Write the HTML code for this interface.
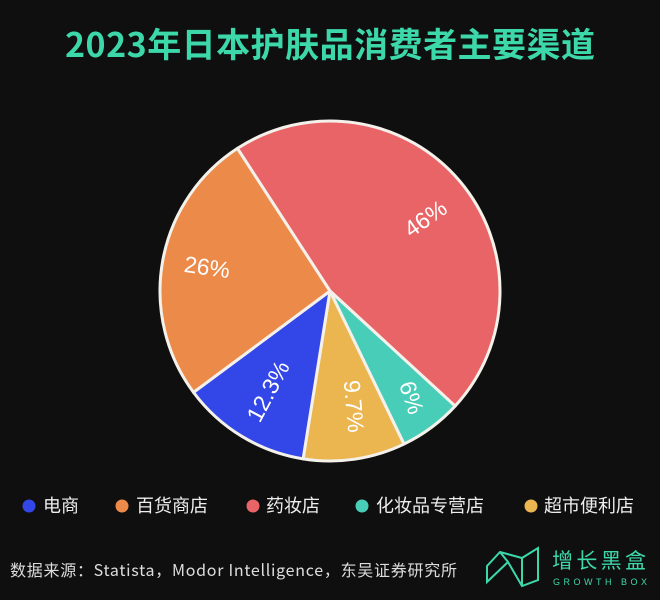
<!DOCTYPE html>
<html><head><meta charset="utf-8"><style>
body{margin:0;background:#0f0f0f;}
svg{display:block}
text{font-family:"Liberation Sans","Noto Sans CJK SC",sans-serif;}
</style></head><body>
<svg width="660" height="600" viewBox="0 0 660 600" xmlns="http://www.w3.org/2000/svg">
<rect width="660" height="600" fill="#0f0f0f"/>
<text x="330" y="57" text-anchor="middle" font-size="34" font-weight="bold" fill="#3dd8aa" textLength="530" style="font-family:'Noto Sans CJK SC',sans-serif">2023年日本护肤品消费者主要渠道</text>
<g stroke="#f4f0ea" stroke-width="3" stroke-linejoin="round">
<path fill="#e96467" d="M330 291 L237.42 148.42 A170 170 0 0 1 455.14 406.07 Z"/>
<path fill="#48cdb8" d="M330 291 L455.14 406.07 A170 170 0 0 1 403.98 444.05 Z"/>
<path fill="#ebb54f" d="M330 291 L403.98 444.05 A170 170 0 0 1 303.11 458.86 Z"/>
<path fill="#3347e8" d="M330 291 L303.11 458.86 A170 170 0 0 1 193.52 392.35 Z"/>
<path fill="#ec8a4a" d="M330 291 L193.52 392.35 A170 170 0 0 1 237.42 148.42 Z"/>
</g>
<g fill="#fff" font-size="23" style="font-family:'Noto Sans CJK SC',sans-serif">
<text transform="translate(430,225) rotate(-35)" text-anchor="middle">46%</text>
<text transform="translate(206,275) rotate(8)" text-anchor="middle">26%</text>
<text transform="translate(275,395) rotate(-62)" text-anchor="middle">12.3%</text>
<text transform="translate(346,407) rotate(85)" text-anchor="middle">9.7%</text>
<text transform="translate(404,400) rotate(72)" text-anchor="middle">6%</text>
</g>
<g font-size="18" fill="#eee" style="font-family:'Noto Sans CJK SC',sans-serif">
<circle cx="29" cy="506" r="6.5" fill="#3347e8"/><text x="43" y="512">电商</text>
<circle cx="122" cy="506" r="6.5" fill="#ec8a4a"/><text x="136" y="512">百货商店</text>
<circle cx="253" cy="506" r="6.5" fill="#e96467"/><text x="266" y="512">药妆店</text>
<circle cx="362" cy="506" r="6.5" fill="#48cdb8"/><text x="376" y="512">化妆品专营店</text>
<circle cx="531" cy="506" r="6.5" fill="#ebb54f"/><text x="544" y="512">超市便利店</text>
</g>
<text x="10" y="576" font-size="16" fill="#ddd" textLength="447" style="font-family:'Noto Sans CJK SC',sans-serif">数据来源：Statista，Modor Intelligence，东吴证券研究所</text>
<g stroke="#3dd8aa" stroke-width="2" fill="none">
<path d="M487 566 L500 552 L522 558 L538 548 L538 580 L522 586 L508 562 L487 582 Z"/>
<path d="M500 552 L508 562 M522 558 L522 586"/>
</g>
<text x="552" y="568" font-size="21" fill="#3dd8aa" textLength="94" style="font-family:'Noto Sans CJK SC',sans-serif">增长黑盒</text>
<text x="553" y="585" font-size="9" fill="#3dd8aa" textLength="94">GROWTH BOX</text>
</svg>
</body></html>
